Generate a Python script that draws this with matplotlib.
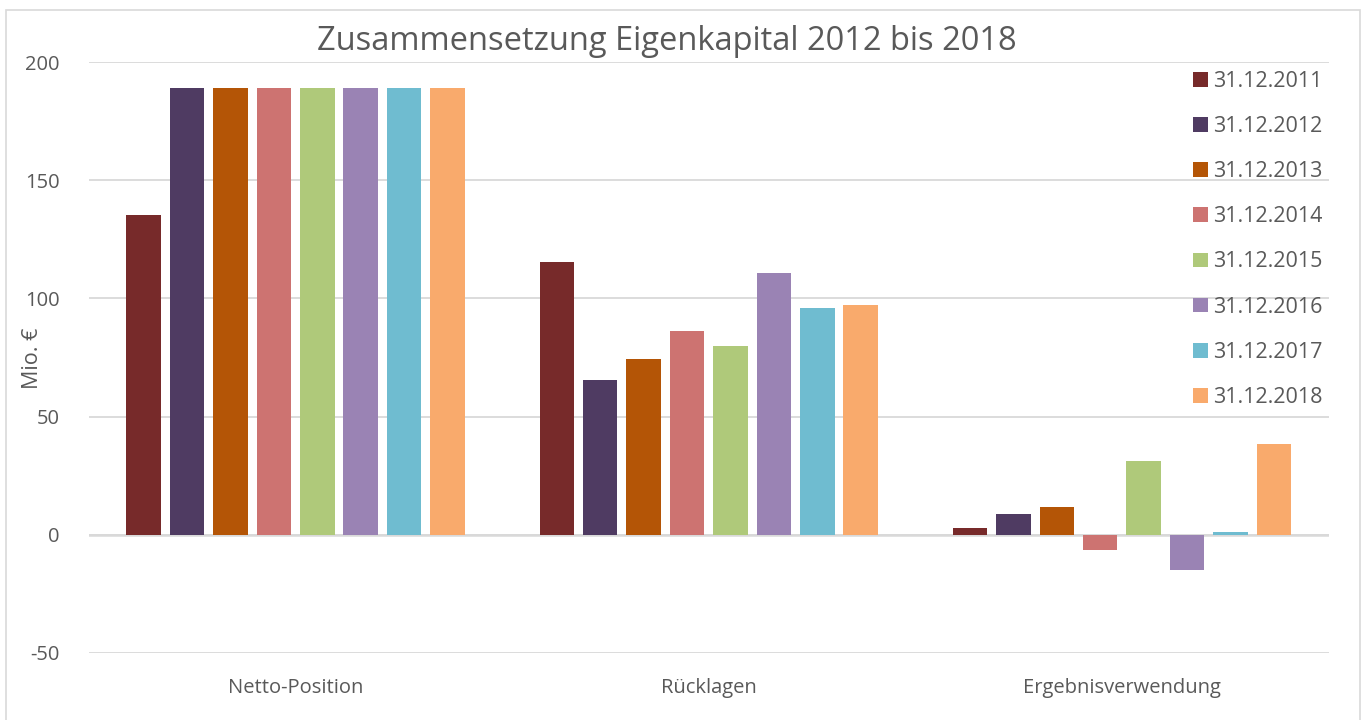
import numpy as np
import matplotlib.pyplot as plt
from matplotlib.patches import Rectangle

categories = ["Netto-Position", "Rücklagen", "Ergebnisverwendung"]
series_labels = ["31.12.2011", "31.12.2012", "31.12.2013", "31.12.2014",
                 "31.12.2015", "31.12.2016", "31.12.2017", "31.12.2018"]
values = [
    [135.3, 115.4, 3.0],
    [189.0, 65.5, 8.9],
    [189.0, 74.4, 11.8],
    [189.0, 86.3, -6.3],
    [189.0, 79.9, 31.3],
    [189.0, 110.8, -14.8],
    [189.0, 96.0, 1.3],
    [189.0, 97.3, 38.5],
]
colors = ["#772A2A", "#4F3B62", "#B45506", "#CD7371",
          "#AFC97A", "#9A83B4", "#6FBCD0", "#F9AA6C"]
yticks = [-50, 0, 50, 100, 150, 200]

plt.rcParams['font.family'] = ['Open Sans', 'DejaVu Sans']
text_col = "#595959"
grid_col = "#D9D9D9"

fig = plt.figure(figsize=(13.65, 7.2), dpi=100)
ax = fig.add_axes([89 / 1365, 1 - 653 / 720, (1328.5 - 89) / 1365, (653 - 62) / 720])

# outer chart frame
fig.patches.append(Rectangle((6 / 1365, -0.05), (1360 - 6) / 1365, 1 - 10 / 720 + 0.05,
                             transform=fig.transFigure, fill=False,
                             edgecolor=grid_col, linewidth=1.2))

x = np.arange(len(categories))
pitch = 43.4 / 413
width = 34.5 / 413
n = len(series_labels)
for i, (lab, vals, c) in enumerate(zip(series_labels, values, colors)):
    offs = (i - (n - 1) / 2) * pitch
    ax.bar(x + offs, vals, width=width, color=c, label=lab, zorder=3)

ax.set_xlim(-0.5, len(categories) - 0.5)
ax.set_ylim(-50, 200)
ax.set_yticks(yticks)
ax.set_yticklabels([str(t) for t in yticks])
ax.set_xticks(x)
ax.set_xticklabels(categories)
ax.tick_params(axis='both', length=0, colors=text_col, labelsize=14.5)
ax.tick_params(axis='y', pad=21)
ax.tick_params(axis='x', pad=18)
ax.grid(axis='y', color=grid_col, linewidth=1.3, zorder=0)
ax.axhline(0, color=grid_col, linewidth=1.8, zorder=2)
for s in ax.spines.values():
    s.set_visible(False)

fig.text(32 / 1365, 1 - 358 / 720, "Mio. €", rotation=90, ha='center', va='center',
         color=text_col, fontsize=15.5)
fig.text(667 / 1365, 1 - 42 / 720, "Zusammensetzung Eigenkapital 2012 bis 2018",
         ha='center', va='center', fontsize=23.5, color=text_col)

leg = ax.legend(loc='upper left', bbox_to_anchor=(1193 / 1365, 1 - 71 / 720),
                bbox_transform=fig.transFigure, frameon=False, fontsize=15.5,
                handlelength=0.68, handleheight=0.68, handletextpad=0.25,
                labelspacing=1.12, borderpad=0, borderaxespad=0)
for t in leg.get_texts():
    t.set_color(text_col)

fig.savefig("out.png", dpi=100)
